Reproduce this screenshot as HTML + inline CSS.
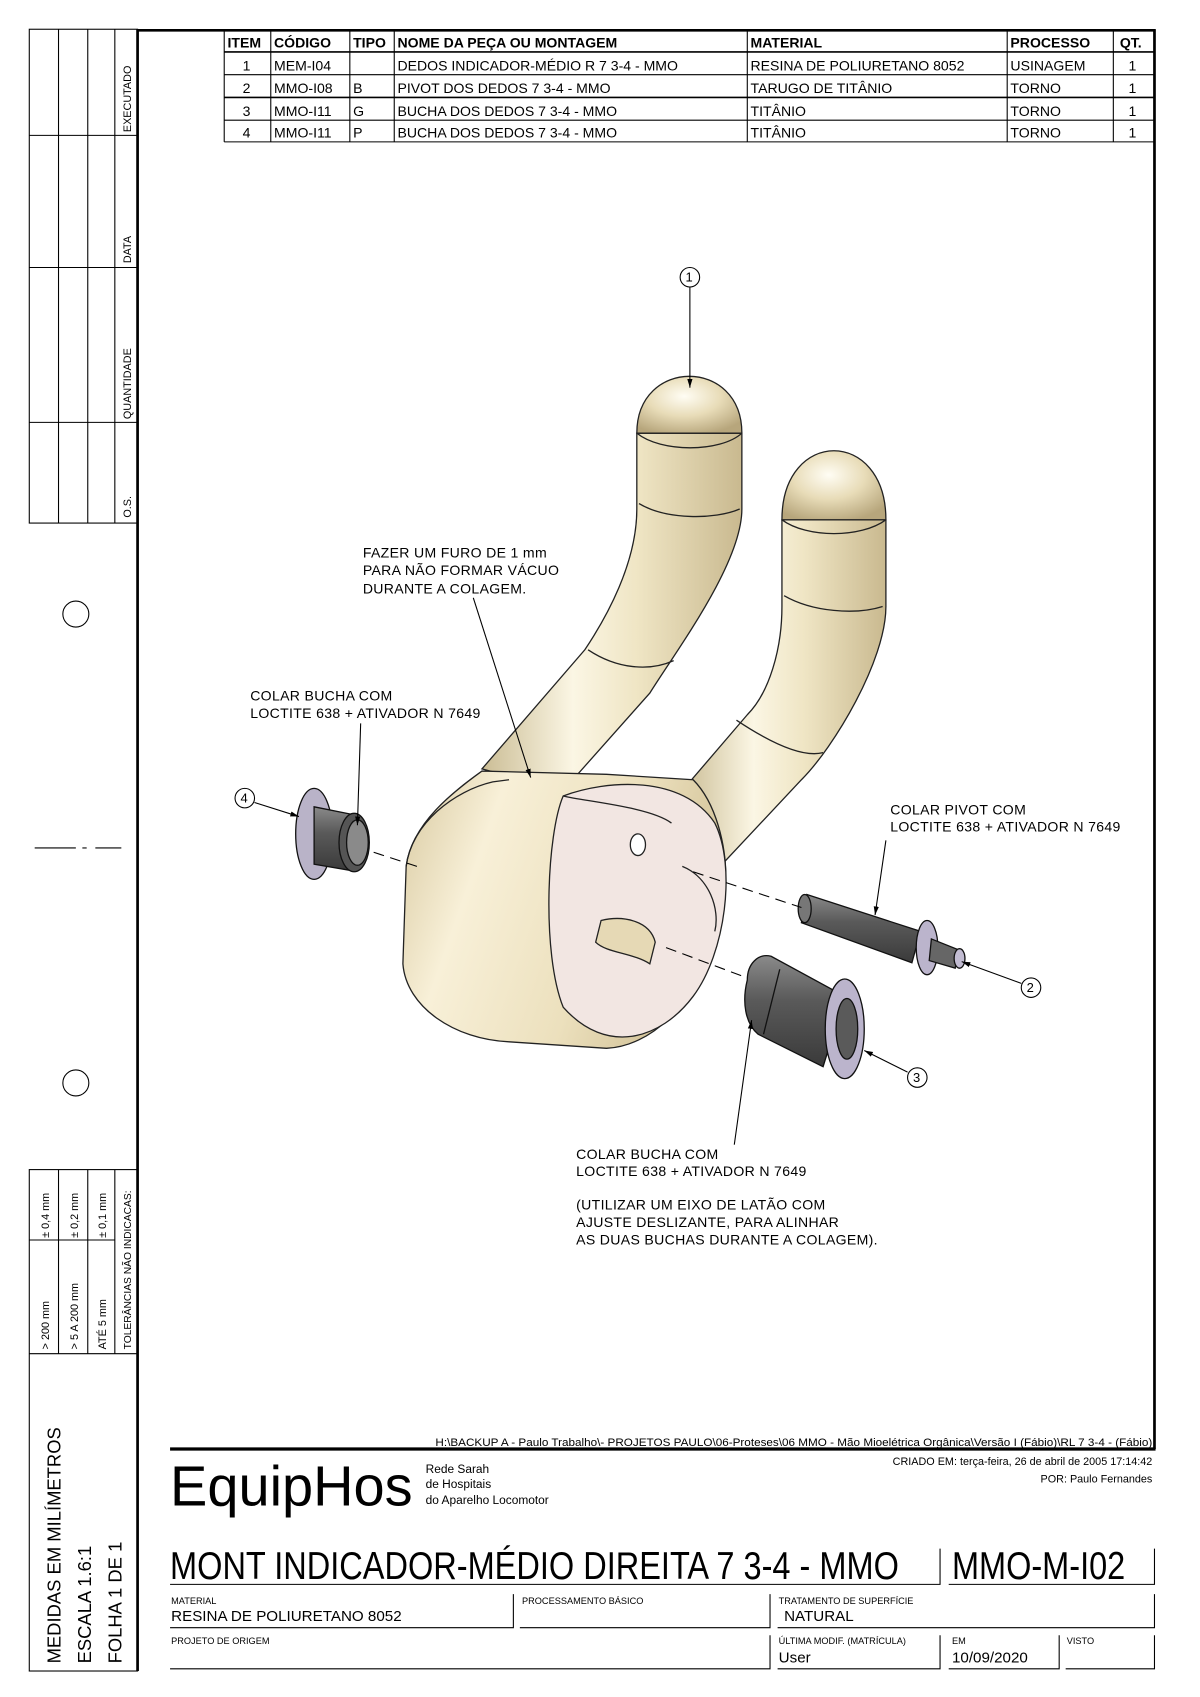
<!DOCTYPE html>
<html><head><meta charset="utf-8"><style>
html,body{margin:0;padding:0;background:#fff}
svg{display:block}
text{font-family:"Liberation Sans",sans-serif;fill:#000}
.t{font-size:13px}
.s{font-size:9px}
.c{font-size:13px;letter-spacing:0.3px}
</style></head><body>
<svg width="1200" height="1697" viewBox="0 0 1108 1567" xmlns="http://www.w3.org/2000/svg">
<defs>
<linearGradient id="beige" x1="0" y1="0" x2="1" y2="0">
<stop offset="0" stop-color="#cbbd95"/><stop offset="0.35" stop-color="#fbf6e4"/><stop offset="0.6" stop-color="#efe5c4"/><stop offset="1" stop-color="#c9b98f"/></linearGradient>
<radialGradient id="dome" cx="0.45" cy="0.35" r="0.7">
<stop offset="0" stop-color="#fffdf4"/><stop offset="0.5" stop-color="#e8dcb8"/><stop offset="1" stop-color="#b7a67c"/></radialGradient>
<linearGradient id="gray" x1="0" y1="0" x2="0" y2="1">
<stop offset="0" stop-color="#8a8a8a"/><stop offset="0.4" stop-color="#5a5a5a"/><stop offset="1" stop-color="#3a3a3a"/></linearGradient>
<linearGradient id="body" x1="0" y1="0" x2="1" y2="0.3">
<stop offset="0" stop-color="#d8c9a0"/><stop offset="0.3" stop-color="#f8f0d8"/><stop offset="0.7" stop-color="#ece0bd"/><stop offset="1" stop-color="#d2c298"/></linearGradient>
<marker id="ar" viewBox="0 0 10 10" refX="10" refY="5" markerWidth="8" markerHeight="8" orient="auto"><path d="M0,2 L10,5 L0,8z" fill="#000"/></marker>
</defs>

<!-- left strip top -->
<g stroke="#000" fill="none" stroke-width="1">
<rect x="27" y="27" width="100" height="456"/>
<line x1="54" y1="27" x2="54" y2="483"/><line x1="81" y1="27" x2="81" y2="483"/><line x1="106" y1="27" x2="106" y2="483"/>
<line x1="27" y1="125" x2="127" y2="125"/><line x1="27" y1="247" x2="127" y2="247"/><line x1="27" y1="390" x2="127" y2="390"/>
<circle cx="70" cy="567" r="12"/><circle cx="70" cy="1000" r="12"/>
<line x1="32" y1="783" x2="70" y2="783"/><line x1="76" y1="783" x2="80" y2="783"/><line x1="88" y1="783" x2="112" y2="783"/>
<rect x="27" y="1080" width="100" height="463"/>
<line x1="54" y1="1080" x2="54" y2="1250"/><line x1="81" y1="1080" x2="81" y2="1250"/><line x1="106" y1="1080" x2="106" y2="1250"/>
<line x1="27" y1="1145" x2="106" y2="1145"/>
<line x1="27" y1="1250" x2="127" y2="1250"/>
</g>
<g class="s">
<text transform="translate(121,122) rotate(-90)" font-size="10">EXECUTADO</text>
<text transform="translate(121,243) rotate(-90)" font-size="10">DATA</text>
<text transform="translate(121,387) rotate(-90)" font-size="10">QUANTIDADE</text>
<text transform="translate(121,478) rotate(-90)" font-size="10">O.S.</text>
<text transform="translate(45,1143) rotate(-90)" font-size="10">± 0,4 mm</text>
<text transform="translate(72,1143) rotate(-90)" font-size="10">± 0,2 mm</text>
<text transform="translate(98,1143) rotate(-90)" font-size="10">± 0,1 mm</text>
<text transform="translate(45,1246) rotate(-90)" font-size="10">&gt; 200 mm</text>
<text transform="translate(72,1246) rotate(-90)" font-size="10">&gt; 5 A 200 mm</text>
<text transform="translate(98,1246) rotate(-90)" font-size="10">ATÉ 5 mm</text>
<text transform="translate(121,1246) rotate(-90)" font-size="9.5">TOLERÂNCIAS NÃO INDICACAS:</text>
</g>
<text transform="translate(56,1536) rotate(-90)" font-size="17">MEDIDAS EM MILÍMETROS</text>
<text transform="translate(84,1536) rotate(-90)" font-size="17">ESCALA 1.6:1</text>
<text transform="translate(112,1536) rotate(-90)" font-size="17">FOLHA 1 DE 1</text>

<!-- main frame -->
<g stroke="#000" fill="none">
<line x1="127" y1="27" x2="127" y2="1543" stroke-width="2.5"/>
<line x1="127" y1="28" x2="1067" y2="28" stroke-width="2.5"/>
<line x1="1066" y1="27" x2="1066" y2="1338" stroke-width="2.5"/>
<line x1="157" y1="1338" x2="1067" y2="1338" stroke-width="3"/>
</g>

<!-- parts table -->
<g stroke="#000" stroke-width="1" fill="none">
<line x1="207" y1="48" x2="1066" y2="48" stroke-width="1.5"/>
<line x1="207" y1="69" x2="1066" y2="69"/><line x1="207" y1="90" x2="1066" y2="90" stroke-width="1.5"/>
<line x1="207" y1="111" x2="1066" y2="111"/><line x1="207" y1="131" x2="1066" y2="131"/>
<line x1="207" y1="28" x2="207" y2="131"/><line x1="250" y1="28" x2="250" y2="131"/><line x1="323" y1="28" x2="323" y2="131"/>
<line x1="364" y1="28" x2="364" y2="131"/><line x1="690" y1="28" x2="690" y2="131"/><line x1="930" y1="28" x2="930" y2="131"/><line x1="1028" y1="28" x2="1028" y2="131"/>
</g>
<g class="t" font-size="13.5">
<text x="210" y="44" font-weight="bold">ITEM</text><text x="253" y="44" font-weight="bold">CÓDIGO</text><text x="326" y="44" font-weight="bold">TIPO</text>
<text x="367" y="44" font-weight="bold">NOME DA PEÇA OU MONTAGEM</text><text x="693" y="44" font-weight="bold">MATERIAL</text>
<text x="933" y="44" font-weight="bold">PROCESSO</text><text x="1034" y="44" font-weight="bold">QT.</text>
<text x="224" y="65">1</text><text x="253" y="65">MEM-I04</text><text x="367" y="65">DEDOS INDICADOR-MÉDIO R 7 3-4 - MMO</text><text x="693" y="65">RESINA DE POLIURETANO 8052</text><text x="933" y="65">USINAGEM</text><text x="1042" y="65">1</text>
<text x="224" y="86">2</text><text x="253" y="86">MMO-I08</text><text x="326" y="86">B</text><text x="367" y="86">PIVOT DOS DEDOS 7 3-4 - MMO</text><text x="693" y="86">TARUGO DE TITÂNIO</text><text x="933" y="86">TORNO</text><text x="1042" y="86">1</text>
<text x="224" y="107">3</text><text x="253" y="107">MMO-I11</text><text x="326" y="107">G</text><text x="367" y="107">BUCHA DOS DEDOS 7 3-4 - MMO</text><text x="693" y="107">TITÂNIO</text><text x="933" y="107">TORNO</text><text x="1042" y="107">1</text>
<text x="224" y="127">4</text><text x="253" y="127">MMO-I11</text><text x="326" y="127">P</text><text x="367" y="127">BUCHA DOS DEDOS 7 3-4 - MMO</text><text x="693" y="127">TITÂNIO</text><text x="933" y="127">TORNO</text><text x="1042" y="127">1</text>
</g>

<!-- part drawing -->
<g stroke="#222" stroke-width="1.2">
<!-- left finger -->
<path d="M588,400 L588,470 C588,520 560,570 540,600 L445,710 L520,730 L600,640 C625,600 685,520 685,470 L685,400 Z" fill="url(#beige)"/>
<path d="M588,400 C588,330 685,330 685,400 Z" fill="url(#dome)"/>
<path d="M588,400 C610,418 665,418 685,400" fill="none"/>
<path d="M590,465 C615,480 660,480 683,470" fill="none"/>
<path d="M543,600 C570,618 600,620 622,610" fill="none"/>
<!-- right finger -->
<path d="M722,480 L722,560 C722,600 710,640 690,660 L630,730 L665,800 L740,720 C770,690 818,610 818,560 L818,480 Z" fill="url(#beige)"/>
<path d="M722,480 C722,395 818,395 818,480 Z" fill="url(#dome)"/>
<path d="M722,480 C745,497 795,497 818,480" fill="none"/>
<path d="M724,550 C750,565 790,568 815,560" fill="none"/>
<path d="M680,665 C710,685 740,700 760,695" fill="none"/>
<!-- body -->
<path d="M445,712 C420,730 380,760 375,800 L372,890 C375,930 420,960 470,962 L560,968 C600,966 640,930 660,870 L670,820 C672,780 660,740 640,720 L560,715 Z" fill="url(#body)"/>
<path d="M375,800 C380,760 420,730 455,722 L470,720" fill="none"/>
<path d="M520,735 C560,720 630,715 660,760 C680,800 670,880 640,920 C610,960 560,975 520,930 C500,880 505,770 520,735 Z" fill="#f2e6e2"/>
<path d="M520,735 C540,740 600,745 620,760" fill="none"/>
<ellipse cx="589" cy="780" rx="7" ry="10" fill="#fff"/>
<path d="M555,850 C575,845 600,850 605,870 L600,890 C585,880 560,880 550,870 Z" fill="#e6d9b5"/>
<path d="M630,800 C655,810 665,840 660,860" fill="none"/>
</g>
<!-- bushing 4 -->
<g stroke="#111" stroke-width="1.2">
<ellipse cx="290" cy="770" rx="17" ry="42" fill="#b9b3c8"/>
<path d="M290,745 L325,752 L325,804 L290,798 Z" fill="url(#gray)"/>
<ellipse cx="327" cy="778" rx="14" ry="27" fill="#555"/>
<ellipse cx="330" cy="778" rx="10" ry="21" fill="#8a8a8a"/>
</g>
<!-- pivot 2 -->
<g stroke="#111" stroke-width="1.2">
<path d="M745,826 L850,860 L842,889 L740,852 Z" fill="url(#gray)"/>
<ellipse cx="743" cy="839" rx="6" ry="13" fill="#777"/>
<ellipse cx="856" cy="875" rx="10" ry="25" fill="#bbb4cc"/>
<path d="M860,867 L885,877 L882,894 L858,887 Z" fill="#666"/>
<ellipse cx="886" cy="885" rx="5" ry="9" fill="#c2bcd2"/>
</g>
<!-- bushing 3 -->
<g stroke="#111" stroke-width="1.2">
<path d="M690,905 C690,890 700,880 712,883 L780,920 L760,985 L700,955 C688,945 685,925 690,905 Z" fill="url(#gray)"/>
<ellipse cx="780" cy="950" rx="18" ry="46" fill="#bbb4cc"/>
<ellipse cx="782" cy="950" rx="10" ry="28" fill="#5a5a5a"/>
<line x1="720" y1="895" x2="705" y2="955" fill="none"/>
</g>
<!-- axis dashed -->
<g stroke="#000" stroke-width="1" stroke-dasharray="10,6" fill="none">
<line x1="345" y1="787" x2="385" y2="800"/>
<line x1="615" y1="875" x2="690" y2="903"/>
<line x1="640" y1="805" x2="740" y2="838"/>
</g>
<!-- leaders -->
<g stroke="#000" stroke-width="1" fill="none">
<line x1="637" y1="265" x2="637" y2="358" marker-end="url(#ar)"/>
<line x1="235" y1="741" x2="276" y2="754" marker-end="url(#ar)"/>
<line x1="437" y1="552" x2="490" y2="718" marker-end="url(#ar)"/>
<line x1="333" y1="668" x2="330" y2="762" marker-end="url(#ar)"/>
<line x1="818" y1="776" x2="808" y2="845" marker-end="url(#ar)"/>
<line x1="943" y1="908" x2="888" y2="888" marker-end="url(#ar)"/>
<line x1="838" y1="990" x2="798" y2="970" marker-end="url(#ar)"/>
<line x1="678" y1="1057" x2="694" y2="942" marker-end="url(#ar)"/>
<circle cx="637" cy="256" r="9"/><circle cx="226" cy="737" r="9"/><circle cx="952" cy="912" r="9"/><circle cx="847" cy="995" r="9"/>
</g>
<g font-size="12">
<text x="633" y="260">1</text><text x="222" y="741">4</text><text x="948" y="916">2</text><text x="843" y="999">3</text>
</g>
<g class="c">
<text x="335" y="515">FAZER UM FURO DE 1 mm</text><text x="335" y="531">PARA NÃO FORMAR VÁCUO</text><text x="335" y="548">DURANTE A COLAGEM.</text>
<text x="231" y="647">COLAR BUCHA COM</text><text x="231" y="663">LOCTITE 638 + ATIVADOR N 7649</text>
<text x="822" y="752">COLAR PIVOT COM</text><text x="822" y="768">LOCTITE 638 + ATIVADOR N 7649</text>
<text x="532" y="1070">COLAR BUCHA COM</text><text x="532" y="1086">LOCTITE 638 + ATIVADOR N 7649</text>
<text x="532" y="1117">(UTILIZAR UM EIXO DE LATÃO COM</text><text x="532" y="1133">AJUSTE DESLIZANTE, PARA ALINHAR</text><text x="532" y="1149">AS DUAS BUCHAS DURANTE A COLAGEM).</text>
</g>

<!-- title block -->
<text x="1064" y="1335" font-size="10" text-anchor="end" textLength="662" lengthAdjust="spacingAndGlyphs">H:\BACKUP A - Paulo Trabalho\- PROJETOS PAULO\06-Proteses\06 MMO - Mão Mioelétrica Orgânica\Versão I (Fábio)\RL 7 3-4 - (Fábio)</text>
<text x="157" y="1390" font-size="52" textLength="224" lengthAdjust="spacingAndGlyphs">EquipHos</text>
<text x="393" y="1360" font-size="11">Rede Sarah</text><text x="393" y="1374" font-size="11">de Hospitais</text><text x="393" y="1389" font-size="11">do Aparelho Locomotor</text>
<text x="1064" y="1353" font-size="10" text-anchor="end">CRIADO EM: terça-feira, 26 de abril de 2005 17:14:42</text>
<text x="1064" y="1369" font-size="10" text-anchor="end">POR: Paulo Fernandes</text>
<text x="157" y="1458" font-size="36" textLength="673" lengthAdjust="spacingAndGlyphs">MONT INDICADOR-MÉDIO DIREITA 7 3-4 - MMO</text>
<text x="879" y="1458" font-size="36" textLength="160" lengthAdjust="spacingAndGlyphs">MMO-M-I02</text>
<g stroke="#000" stroke-width="1" fill="none">
<polyline points="157,1463 868,1463 868,1430"/>
<polyline points="876,1463 1066,1463 1066,1430"/>
<polyline points="157,1503 474,1503 474,1472"/>
<polyline points="480,1503 711,1503 711,1472"/>
<polyline points="718,1503 1066,1503 1066,1472"/>
<polyline points="157,1541 711,1541 711,1510"/>
<polyline points="718,1541 868,1541 868,1510"/>
<polyline points="876,1541 978,1541 978,1510"/>
<polyline points="984,1541 1066,1541 1066,1510"/>
</g>
<g font-size="8.5">
<text x="158" y="1481">MATERIAL</text><text x="482" y="1481">PROCESSAMENTO BÁSICO</text><text x="719" y="1481">TRATAMENTO DE SUPERFÍCIE</text>
<text x="158" y="1518">PROJETO DE ORIGEM</text><text x="719" y="1518">ÚLTIMA MODIF. (MATRÍCULA)</text><text x="879" y="1518">EM</text><text x="985" y="1518">VISTO</text>
</g>
<text x="158" y="1497" font-size="14">RESINA DE POLIURETANO 8052</text>
<text x="724" y="1497" font-size="14">NATURAL</text>
<text x="719" y="1535" font-size="14">User</text>
<text x="879" y="1535" font-size="14">10/09/2020</text>
</svg>
</body></html>
